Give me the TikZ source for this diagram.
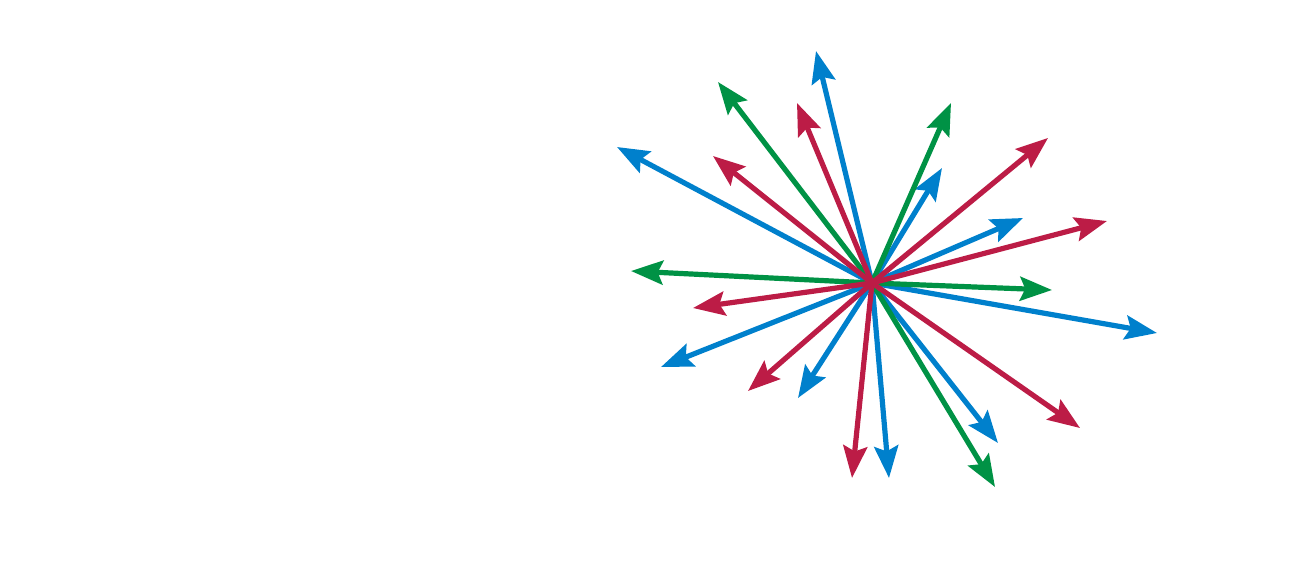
\documentclass[tikz,border=0pt]{standalone}
\usetikzlibrary{arrows.meta}
\definecolor{rayblue}{RGB}{0,128,204}
\definecolor{raygreen}{RGB}{0,146,69}
\definecolor{rayred}{RGB}{188,28,70}
\tikzset{
  ray/.style={line width=3.9pt, -{Stealth[length=24pt,width=18pt,inset=4pt]}},
  bray/.style={ray, draw=rayblue, fill=rayblue},
  gray/.style={ray, draw=raygreen, fill=raygreen},
  rray/.style={ray, draw=rayred, fill=rayred}
}
\begin{document}
\begin{tikzpicture}[x=0.75pt,y=-0.75pt]
\useasboundingbox (0,0) rectangle (1299,562);
\coordinate (c) at (872,283);
% blue tips
\coordinate (b1) at (816,51);
\coordinate (b2) at (617,147);
\coordinate (b3) at (942,168);
\coordinate (b4) at (1023,218);
\coordinate (b5) at (1157,333);
\coordinate (b6) at (998,443);
\coordinate (b7) at (889,478);
\coordinate (b8) at (798,398);
\coordinate (b9) at (661,367);
% green tips
\coordinate (g1) at (718,82);
\coordinate (g2) at (951,103);
\coordinate (g3) at (631,271);
\coordinate (g4) at (1052,290);
\coordinate (g5) at (995,487);
% red tips
\coordinate (r1) at (797,103);
\coordinate (r2) at (713,156);
\coordinate (r3) at (1048,138);
\coordinate (r4) at (1107,221);
\coordinate (r5) at (693,308);
\coordinate (r6) at (748,391);
\coordinate (r7) at (852,478);
\coordinate (r8) at (1080,428);
\foreach \t in {b1,b2,b3,b4,b5,b6,b7,b8,b9} \draw[bray] (c) -- (\t);
\foreach \t in {g1,g2,g3,g4,g5} \draw[gray] (c) -- (\t);
\foreach \t in {r1,r2,r3,r4,r5,r6,r7,r8} \draw[rray] (c) -- (\t);
\end{tikzpicture}
\end{document}
